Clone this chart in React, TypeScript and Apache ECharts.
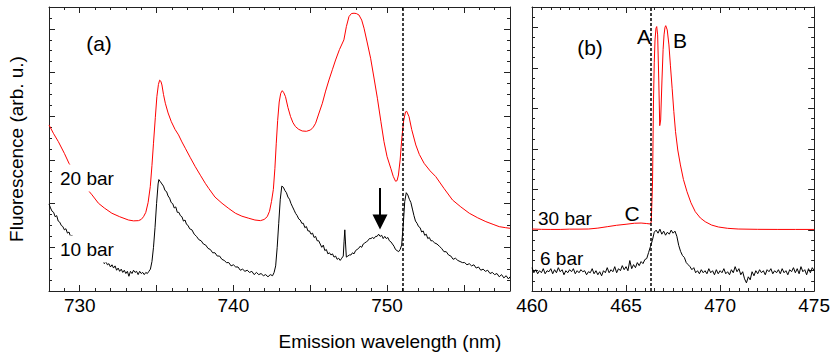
import React, { useEffect, useRef } from "react";
import * as echarts from "echarts";

const FONT = "'Liberation Sans', Arial, Helvetica, sans-serif";

// ---- axis ticks / labels ----
const leftXLabels = [730, 740, 750];
const leftXMajor = [730, 735, 740, 745, 750, 755];
const leftYMajor = [0, 4, 8, 12, 16, 20, 24];
const rightXLabels = [460, 465, 470, 475];
const rightXMajor = [460, 465, 470, 475];
const rightYMajor = [2, 6, 10, 14, 18, 22, 26];

// ---- markers ----
const leftDashX = 751.05;
const rightDashX = 466.32;
const arrowX = 749.54;
const arrowTopY = 9.43;
const arrowHeadY = 6.32;

// ---- (a) 20 bar, red ----
const red20: number[][] = [
  [728.0, 15.2], [728.3, 14.4], [728.61, 13.67], [729.0, 12.6], [729.3, 11.69], [729.8, 10.6],
  [730.35, 9.55], [730.8, 8.8], [731.22, 8.03], [731.6, 7.6], [732.09, 7.12], [732.6, 6.8],
  [733.17, 6.5], [733.5, 6.42], [733.82, 6.44], [734.0, 6.55], [734.15, 6.8], [734.3, 7.2],
  [734.45, 8.1], [734.59, 9.55], [734.7, 11.5], [734.8, 13.53], [734.92, 15.9], [735.02, 17.79],
  [735.12, 18.9], [735.2, 19.3], [735.28, 19.2], [735.35, 18.86], [735.45, 18.0], [735.57, 17.19],
  [735.75, 16.3], [735.96, 15.5], [736.2, 14.8], [736.43, 14.29], [736.65, 13.65], [736.87, 13.07],
  [737.2, 12.2], [737.52, 11.38], [737.85, 10.6], [738.17, 9.86], [738.39, 9.4], [738.8, 8.6],
  [739.26, 8.03], [739.7, 7.55], [740.13, 7.12], [740.55, 6.85], [741.0, 6.66], [741.4, 6.5],
  [741.76, 6.44], [742.0, 6.55], [742.2, 6.8], [742.35, 7.3], [742.48, 8.2], [742.6, 9.3],
  [742.7, 11.2], [742.79, 13.53], [742.88, 15.6], [742.98, 17.3], [743.08, 18.1], [743.18, 18.34],
  [743.28, 18.15], [743.39, 17.79], [743.55, 16.8], [743.72, 15.96], [743.88, 15.4], [744.04, 15.05],
  [744.25, 14.8], [744.48, 14.65], [744.75, 14.62], [745.02, 14.74], [745.2, 15.0], [745.35, 15.36],
  [745.55, 16.2], [745.79, 17.19], [746.0, 18.3], [746.22, 19.32], [746.45, 20.3], [746.65, 21.15],
  [746.9, 22.1], [747.19, 22.99], [747.35, 24.2], [747.52, 25.12], [747.68, 25.4], [747.85, 25.43],
  [748.0, 25.4], [748.17, 25.27], [748.35, 24.8], [748.5, 24.06], [748.7, 22.8], [748.93, 21.31],
  [749.15, 19.5], [749.37, 17.65], [749.6, 15.5], [749.8, 13.67], [750.0, 12.3], [750.24, 11.24],
  [750.4, 10.5], [750.55, 10.05], [750.65, 10.1], [750.74, 10.62], [750.85, 12.0], [750.96, 13.98],
  [751.08, 15.6], [751.2, 16.4], [751.28, 16.45], [751.43, 15.96], [751.6, 14.8], [751.87, 13.37],
  [752.1, 12.5], [752.41, 11.69], [752.8, 11.0], [753.17, 10.47], [753.7, 9.4], [754.26, 8.33],
  [754.8, 7.7], [755.35, 7.12], [755.9, 6.7], [756.43, 6.35], [756.9, 6.1], [757.3, 5.89],
  [757.7, 5.8], [758.0, 5.74],
];

// ---- (a) 10 bar, black ----
const black10: number[][] = [
  [728.0, 7.97], [728.1, 7.6], [728.2, 7.3], [728.3, 7.2], [728.4, 6.8], [728.5, 6.9], [728.6, 6.4],
  [728.7, 6.3], [728.8, 6.0], [728.9, 5.9], [729.0, 5.6], [729.1, 5.7], [729.2, 5.3], [729.3, 5.4],
  [729.4, 5.0], [729.5, 5.1], [729.6, 4.9], [730.0, 4.4], [730.5, 3.8], [731.0, 3.2],
  [731.2, 2.9], [731.3, 3.0], [731.4, 2.7], [731.5, 2.8], [731.6, 2.5], [731.7, 2.7], [731.8, 2.4],
  [731.9, 2.5], [732.0, 2.2], [732.1, 2.4], [732.2, 2.1], [732.3, 2.3], [732.4, 1.9], [732.5, 2.1],
  [732.6, 1.8], [732.7, 2.0], [732.8, 1.7], [732.9, 1.9], [733.0, 1.6], [733.1, 1.8], [733.2, 1.35],
  [733.3, 1.8], [733.4, 1.6], [733.5, 1.9], [733.6, 1.7], [733.7, 1.8], [733.8, 1.5], [733.9, 1.8],
  [734.0, 1.6], [734.1, 1.7], [734.2, 1.5], [734.3, 1.7], [734.4, 1.6], [734.5, 1.8], [734.6, 2.0],
  [734.7, 2.7], [734.8, 4.0], [734.9, 5.8], [735.0, 8.0], [735.1, 9.8], [735.15, 10.2], [735.25, 10.0],
  [735.35, 9.8], [735.45, 9.6], [735.55, 9.2], [735.65, 9.1], [735.75, 8.7], [735.85, 8.5],
  [735.95, 8.1], [736.05, 8.0], [736.15, 7.6], [736.25, 7.7], [736.35, 7.2], [736.45, 7.2],
  [736.55, 6.9], [736.65, 6.8], [736.75, 6.4], [736.85, 6.5], [736.95, 6.1], [737.05, 6.0],
  [737.15, 5.7], [737.3, 5.6], [737.45, 5.2], [737.6, 5.0], [737.75, 4.7], [737.9, 4.6],
  [738.05, 4.3], [738.2, 4.2], [738.35, 3.9], [738.5, 3.8], [738.65, 3.5], [738.8, 3.5],
  [738.95, 3.2], [739.1, 3.2], [739.25, 2.9], [739.4, 2.8], [739.55, 2.6], [739.7, 2.6],
  [739.85, 2.3], [740.0, 2.4], [740.15, 2.2], [740.3, 2.2], [740.45, 1.9], [740.6, 2.0],
  [740.75, 1.8], [740.9, 1.9], [741.05, 1.7], [741.2, 1.8], [741.35, 1.5], [741.5, 1.7],
  [741.65, 1.5], [741.8, 1.6], [741.95, 1.4], [742.1, 1.5], [742.25, 1.3], [742.4, 1.5],
  [742.55, 1.4], [742.65, 1.7], [742.75, 2.3], [742.85, 4.0], [742.95, 6.2], [743.05, 8.4],
  [743.15, 9.6], [743.25, 9.5], [743.35, 9.2], [743.45, 9.0], [743.55, 8.6], [743.65, 8.4],
  [743.75, 8.0], [743.85, 7.7], [743.95, 7.4], [744.05, 7.1], [744.15, 6.9], [744.25, 6.6],
  [744.35, 6.5], [744.45, 6.2], [744.55, 6.2], [744.65, 5.8], [744.75, 5.9], [744.85, 5.5],
  [744.95, 5.5], [745.05, 5.2], [745.15, 5.3], [745.25, 4.9], [745.35, 5.0], [745.45, 4.6],
  [745.55, 4.6], [745.65, 4.3], [745.75, 4.0], [745.85, 4.2], [745.95, 3.7], [746.05, 3.8],
  [746.15, 3.4], [746.25, 3.5], [746.35, 3.3], [746.45, 3.4], [746.55, 3.1], [746.65, 3.2],
  [746.75, 2.9], [746.85, 3.0], [746.95, 2.8], [747.05, 3.0], [747.15, 3.2], [747.2, 4.5],
  [747.25, 5.6], [747.3, 4.3], [747.35, 3.1], [747.45, 3.2], [747.55, 3.3], [747.65, 3.3],
  [747.75, 3.5], [747.85, 3.4], [747.95, 3.7], [748.05, 3.8], [748.15, 3.9], [748.25, 4.1],
  [748.35, 4.0], [748.45, 4.3], [748.55, 4.4], [748.65, 4.5], [748.75, 4.6], [748.85, 4.8],
  [748.95, 4.8], [749.05, 4.9], [749.15, 4.8], [749.25, 5.0], [749.35, 5.0], [749.45, 5.2],
  [749.55, 5.0], [749.65, 5.1], [749.75, 4.8], [749.85, 5.0], [749.95, 4.8], [750.05, 4.9],
  [750.15, 4.6], [750.25, 4.5], [750.35, 4.3], [750.45, 4.1], [750.55, 3.8], [750.65, 3.7],
  [750.75, 3.6], [750.85, 3.8], [750.95, 4.2], [751.05, 6.0], [751.15, 8.2], [751.25, 9.0],
  [751.35, 8.8], [751.45, 8.4], [751.55, 8.1], [751.65, 7.5], [751.75, 6.9], [751.85, 6.4],
  [751.95, 6.2], [752.05, 5.9], [752.15, 5.8], [752.25, 5.4], [752.35, 5.5], [752.45, 5.1],
  [752.55, 5.2], [752.65, 4.8], [752.75, 4.9], [752.85, 4.6], [752.95, 4.6], [753.1, 4.4],
  [753.25, 4.3], [753.4, 4.1], [753.55, 3.9], [753.7, 3.6], [753.85, 3.6], [754.0, 3.3],
  [754.15, 3.2], [754.3, 2.9], [754.45, 3.0], [754.6, 2.8], [754.75, 2.7], [754.9, 2.6],
  [755.05, 2.6], [755.2, 2.4], [755.35, 2.5], [755.5, 2.3], [755.65, 2.4], [755.8, 2.1],
  [755.95, 2.2], [756.1, 1.9], [756.25, 2.0], [756.4, 1.8], [756.55, 1.9], [756.7, 1.6],
  [756.85, 1.7], [757.0, 1.5], [757.15, 1.6], [757.3, 1.3], [757.45, 1.5], [757.6, 1.2],
  [757.75, 1.4], [757.9, 1.1], [758.0, 1.3],
];

// ---- (b) 30 bar, red ----
const red30: number[][] = [
  [460.0, 6.11], [460.5, 6.08], [461.0, 6.07], [461.5, 6.07], [462.0, 6.1], [462.5, 6.1],
  [463.0, 6.11], [463.5, 6.2], [464.0, 6.34], [464.5, 6.48], [465.0, 6.58], [465.44, 6.68],
  [465.8, 6.7], [466.1, 6.65], [466.28, 6.61], [466.34, 6.8], [466.38, 9.0], [466.41, 10.95],
  [466.46, 18.84], [466.5, 22.5], [466.54, 24.75], [466.59, 25.9], [466.63, 26.07], [466.68, 25.25],
  [466.74, 20.8], [466.79, 16.3], [466.84, 16.86], [466.91, 20.8], [466.97, 23.8], [467.02, 25.25],
  [467.07, 26.0], [467.11, 26.16], [467.19, 25.74], [467.28, 24.26], [467.36, 22.2], [467.45, 19.99],
  [467.54, 17.7], [467.63, 15.71], [467.75, 13.9], [467.89, 12.43], [468.05, 11.0], [468.24, 9.79],
  [468.45, 8.7], [468.68, 7.82], [468.95, 7.2], [469.21, 6.83], [469.55, 6.5], [469.91, 6.31],
  [470.4, 6.18], [470.96, 6.11], [472.0, 6.08], [473.07, 6.07], [474.0, 6.07], [475.0, 6.07],
];

// ---- (b) 6 bar, black ----
const black6: number[][] = [
  [460.0, 2.3], [460.1, 1.8], [460.2, 2.1], [460.3, 1.7], [460.4, 2.0], [460.5, 1.8], [460.6, 2.2],
  [460.7, 1.7], [460.8, 2.0], [460.9, 1.9], [461.0, 2.2], [461.1, 1.7], [461.2, 2.1], [461.3, 1.8],
  [461.4, 2.3], [461.5, 1.9], [461.6, 2.1], [461.7, 1.6], [461.8, 2.0], [461.9, 1.8], [462.0, 2.1],
  [462.1, 1.9], [462.2, 2.2], [462.3, 1.7], [462.4, 2.0], [462.5, 1.8], [462.6, 2.1], [462.7, 1.9],
  [462.8, 2.0], [462.9, 1.6], [463.0, 1.9], [463.1, 1.8], [463.2, 2.2], [463.3, 1.7], [463.4, 2.0],
  [463.5, 1.6], [463.6, 1.9], [463.7, 1.5], [463.8, 2.0], [463.9, 1.8], [464.0, 2.3], [464.1, 1.8],
  [464.2, 2.1], [464.3, 1.9], [464.4, 2.4], [464.5, 1.8], [464.6, 2.2], [464.7, 2.0], [464.8, 2.5],
  [464.9, 2.1], [465.0, 2.4], [465.1, 2.0], [465.2, 3.0], [465.3, 2.2], [465.4, 2.6], [465.5, 2.3],
  [465.6, 2.8], [465.7, 2.5], [465.8, 2.9], [465.9, 2.7], [466.0, 3.1], [466.1, 3.2], [466.2, 3.8],
  [466.3, 4.4], [466.4, 5.0], [466.5, 5.8], [466.6, 6.0], [466.7, 5.7], [466.8, 6.1], [466.9, 5.6],
  [467.0, 5.9], [467.1, 5.5], [467.2, 5.8], [467.3, 5.6], [467.4, 6.0], [467.5, 5.7], [467.6, 5.9],
  [467.7, 5.4], [467.8, 4.5], [467.9, 3.9], [468.0, 3.5], [468.1, 3.3], [468.2, 2.8], [468.3, 2.6],
  [468.4, 2.4], [468.5, 2.1], [468.6, 2.3], [468.7, 1.8], [468.8, 2.0], [468.9, 1.7], [469.0, 2.1],
  [469.1, 1.8], [469.2, 2.0], [469.3, 1.7], [469.4, 2.2], [469.5, 1.8], [469.6, 2.0], [469.7, 1.6],
  [469.8, 2.1], [469.9, 1.7], [470.0, 2.0], [470.1, 1.8], [470.2, 2.2], [470.3, 1.7], [470.4, 1.9],
  [470.5, 1.6], [470.6, 2.1], [470.7, 1.8], [470.8, 2.4], [470.9, 1.9], [471.0, 2.2], [471.1, 1.6],
  [471.2, 1.9], [471.3, 1.2], [471.4, 0.8], [471.5, 1.4], [471.6, 1.1], [471.7, 1.9], [471.8, 1.5],
  [471.9, 2.0], [472.0, 1.7], [472.1, 2.1], [472.2, 1.8], [472.3, 2.0], [472.4, 1.6], [472.5, 2.1],
  [472.6, 1.9], [472.7, 2.2], [472.8, 1.7], [472.9, 2.0], [473.0, 1.8], [473.1, 2.1], [473.2, 1.7],
  [473.3, 2.2], [473.4, 1.8], [473.5, 2.0], [473.6, 1.6], [473.7, 2.1], [473.8, 1.9], [473.9, 2.3],
  [474.0, 1.8], [474.1, 2.2], [474.2, 1.7], [474.3, 2.4], [474.4, 1.9], [474.5, 2.1], [474.6, 1.6],
  [474.7, 2.2], [474.8, 1.8], [474.9, 2.3], [475.0, 2.0],
];

const AXIS_COLOR = "#222";

function makeAxes(
  dim: "x" | "y",
  gridIndex: number,
  min: number,
  max: number,
  minor: number,
  major: number[],
  labels: number[] | null
) {
  const pos1 = dim === "x" ? "bottom" : "left";
  const pos2 = dim === "x" ? "top" : "right";
  const base = {
    type: "value",
    gridIndex,
    min,
    max,
    splitLine: { show: false },
    axisPointer: { show: false },
  };
  const lineOn = { show: true, onZero: false, lineStyle: { color: AXIS_COLOR, width: 1 } };
  const minorTick = { show: true, inside: true, length: 3, lineStyle: { color: AXIS_COLOR, width: 1 } };
  const majorTick = {
    show: true,
    inside: true,
    length: 6,
    customValues: major,
    lineStyle: { color: AXIS_COLOR, width: 1 },
  };
  return [
    {
      ...base,
      position: pos1,
      interval: minor,
      axisLine: lineOn,
      axisTick: minorTick,
      axisLabel: labels
        ? { show: true, customValues: labels, fontSize: 19, fontFamily: FONT, color: "#000", margin: 5 }
        : { show: false },
    },
    { ...base, position: pos1, axisLine: { show: false, onZero: false }, axisTick: majorTick, axisLabel: { show: false } },
    { ...base, position: pos2, interval: minor, axisLine: lineOn, axisTick: minorTick, axisLabel: { show: false } },
    { ...base, position: pos2, axisLine: { show: false, onZero: false }, axisTick: majorTick, axisLabel: { show: false } },
  ];
}

function txt(text: string, x: number, y: number, size: number, extra: any = {}) {
  return {
    type: "text",
    x,
    y,
    z: 100,
    silent: true,
    ...extra,
    style: {
      text,
      font: `${size}px ${FONT}`,
      fill: "#000",
      align: extra.align || "center",
      verticalAlign: "middle",
      ...(extra.style || {}),
    },
  };
}

export default function App() {
  const ref = useRef<HTMLDivElement>(null);

  useEffect(() => {
    if (!ref.current) return;
    const chart = echarts.init(ref.current, null, { renderer: "svg" });

    const dashLine = (x: number) => ({
      silent: true,
      symbol: "none",
      label: { show: false },
      emphasis: { disabled: true },
      lineStyle: { color: "#000", type: [3, 2], width: 1.5 },
      data: [{ xAxis: x }],
    });

    const option: any = {
      animation: false,
      backgroundColor: "#fff",
      grid: [
        { left: 49, top: 7, width: 461, height: 284 },
        { left: 532, top: 7, width: 285, height: 284 },
      ],
      xAxis: [
        ...makeAxes("x", 0, 728, 758, 1, leftXMajor, leftXLabels),
        ...makeAxes("x", 1, 460, 475, 0.5, rightXMajor, rightXLabels),
      ],
      yAxis: [
        ...makeAxes("y", 0, 0, 26, 1, leftYMajor, null),
        ...makeAxes("y", 1, 0, 28, 1, rightYMajor, null),
      ],
      series: [
        {
          name: "20 bar",
          type: "line",
          xAxisIndex: 0,
          yAxisIndex: 0,
          data: red20,
          symbol: "none",
          showSymbol: false,
          lineStyle: { color: "#ff0000", width: 1 },
          itemStyle: { color: "#ff0000" },
          markLine: dashLine(leftDashX),
        },
        {
          name: "10 bar",
          type: "line",
          xAxisIndex: 0,
          yAxisIndex: 0,
          data: black10,
          symbol: "none",
          showSymbol: false,
          lineStyle: { color: "#000", width: 1 },
          itemStyle: { color: "#000" },
          markLine: {
            silent: true,
            label: { show: false },
            emphasis: { disabled: true },
            lineStyle: { color: "#000", type: "solid", width: 2 },
            data: [
              [
                { coord: [arrowX, arrowTopY], symbol: "none" },
                { coord: [arrowX, arrowHeadY], symbol: "triangle", symbolSize: [15, 15], itemStyle: { color: "#000" } },
              ],
            ],
          },
        },
        {
          name: "30 bar",
          type: "line",
          xAxisIndex: 4,
          yAxisIndex: 4,
          data: red30,
          symbol: "none",
          showSymbol: false,
          lineStyle: { color: "#ff0000", width: 1 },
          itemStyle: { color: "#ff0000" },
          markLine: dashLine(rightDashX),
        },
        {
          name: "6 bar",
          type: "line",
          xAxisIndex: 4,
          yAxisIndex: 4,
          data: black6,
          symbol: "none",
          showSymbol: false,
          lineStyle: { color: "#000", width: 1 },
          itemStyle: { color: "#000" },
        },
      ],
      graphic: [
        txt("(a)", 99, 43, 21),
        txt("(b)", 590, 47, 21),
        txt("A", 644, 36, 21),
        txt("B", 680, 40, 21),
        txt("C", 632, 213, 21),
        txt("30 bar", 538, 218, 19, { align: "left" }),
        txt("6 bar", 540, 258, 19, { align: "left" }),
        txt("20 bar", 57, 178, 19, {
          align: "left",
          style: { backgroundColor: "#fff", padding: [4, 3, 4, 3] },
        }),
        txt("10 bar", 57, 249, 19, {
          align: "left",
          style: { backgroundColor: "#fff", padding: [4, 3, 4, 3] },
        }),
        txt("Emission wavelength (nm)", 390, 341, 19),
        txt("Fluorescence (arb. u.)", 16, 149, 19, { rotation: Math.PI / 2 }),
      ],
    };

    chart.setOption(option);
    return () => chart.dispose();
  }, []);

  return (
    <div
      ref={ref}
      style={{ position: "fixed", left: 0, top: 0, width: 833, height: 352, background: "#fff" }}
    />
  );
}
